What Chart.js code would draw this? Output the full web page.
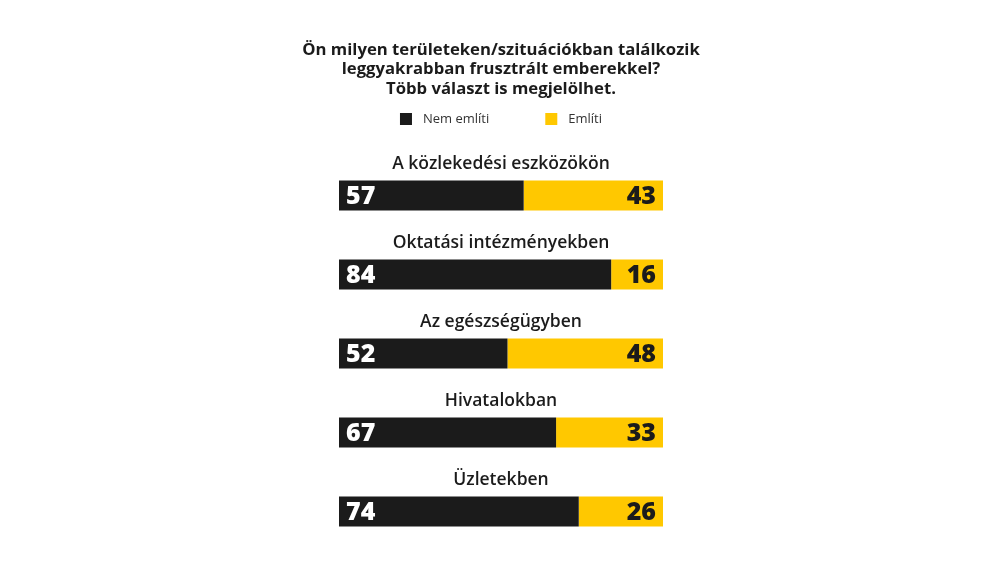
<!DOCTYPE html>
<html lang="hu">
<head>
    <meta charset="UTF-8">
    <title>Frusztrált emberek</title>
    <script src="https://cdn.jsdelivr.net/npm/chart.js"></script>
    <style>
        html, body { margin: 0; padding: 0; background: #fff; }
        #wrap { width: 1000px; height: 563px; }
    </style>
</head>
<body>
    <div id="wrap"><canvas id="chart" width="1000" height="563"></canvas></div>

    <script>
        // Adatok
        const categories = ['A közlekedési eszközökön', 'Oktatási intézményekben', 'Az egészségügyben', 'Hivatalokban', 'Üzletekben'];
        const nemEmliti = [57, 84, 52, 67, 74];
        const emliti = [43, 16, 48, 33, 26];
        const seriesNames = ['Nem említi', 'Említi'];
        const titleLines = ['Ön milyen területeken/szituációkban találkozik', 'leggyakrabban frusztrált emberekkel?', 'Több választ is megjelölhet.'];

        const BLACK = '#1b1b1b';
        const YELLOW = '#ffc800';
        const FONT = '"Open Sans", Lato, sans-serif';

        // Kategória feliratok a sávok fölött + értékek a sávokon belül
        const labelsPlugin = {
            id: 'barLabels',
            afterDatasetsDraw(chart) {
                const ctx = chart.ctx;
                const x = chart.scales.x;
                const metaA = chart.getDatasetMeta(0);
                const metaB = chart.getDatasetMeta(1);
                ctx.save();
                metaA.data.forEach((bar, i) => {
                    const barB = metaB.data[i];
                    const top = bar.y - bar.height / 2;
                    // kategória
                    ctx.fillStyle = BLACK;
                    ctx.font = '600 17.5px ' + FONT;
                    ctx.textAlign = 'center';
                    ctx.textBaseline = 'middle';
                    ctx.fillText(categories[i], (x.left + x.right) / 2, top - 16);
                    // értékek
                    ctx.font = '800 25px ' + FONT;
                    ctx.fillStyle = '#fff';
                    ctx.textAlign = 'left';
                    ctx.fillText(nemEmliti[i], bar.base + 7, bar.y + 1);
                    ctx.fillStyle = BLACK;
                    ctx.textAlign = 'right';
                    ctx.fillText(emliti[i], barB.x - 7, barB.y + 1);
                });
                ctx.restore();
            }
        };

        // Cím és saját jelmagyarázat a sávok fölött
        const headerPlugin = {
            id: 'header',
            afterDraw(chart) {
                const ctx = chart.ctx;
                const cx = (chart.chartArea.left + chart.chartArea.right) / 2;
                ctx.save();
                ctx.textBaseline = 'middle';
                // cím
                ctx.fillStyle = BLACK;
                ctx.textAlign = 'center';
                ctx.font = 'bold 16.7px ' + FONT;
                titleLines.forEach((line, i) => ctx.fillText(line, cx, 50 + i * 19.5));
                // jelmagyarázat
                const y = 119;
                ctx.font = '13px ' + FONT;
                ctx.textAlign = 'left';
                const items = chart.data.datasets.map(ds => ({ text: ds.label, color: ds.backgroundColor }));
                const box = 12, gapText = 11, gapItem = 56;
                const widths = items.map(it => box + gapText + ctx.measureText(it.text).width);
                const total = widths.reduce((a, b) => a + b, 0) + gapItem * (items.length - 1);
                let px = cx - total / 2;
                items.forEach((it, i) => {
                    ctx.fillStyle = it.color;
                    ctx.fillRect(px, y - box / 2, box, box);
                    ctx.fillStyle = '#333';
                    ctx.fillText(it.text, px + box + gapText, y);
                    px += widths[i] + gapItem;
                });
                ctx.restore();
            }
        };

        const chart = new Chart(document.getElementById('chart'), {
            type: 'bar',
            data: {
                labels: categories,
                datasets: [
                    { label: seriesNames[0], data: nemEmliti, backgroundColor: BLACK },
                    { label: seriesNames[1], data: emliti, backgroundColor: YELLOW }
                ]
            },
            options: {
                indexAxis: 'y',
                responsive: false,
                animation: false,
                layout: { padding: { left: 339, right: 337, top: 156, bottom: 12 } },
                datasets: { bar: { categoryPercentage: 1, barPercentage: 0.38, borderWidth: 0 } },
                scales: {
                    x: { stacked: true, min: 0, max: 100, display: false },
                    y: { stacked: true, display: false }
                },
                plugins: {
                    legend: { display: false },
                    tooltip: { enabled: false },
                    title: { display: false }
                }
            },
            plugins: [labelsPlugin, headerPlugin]
        });
    </script>
</body>
</html>
